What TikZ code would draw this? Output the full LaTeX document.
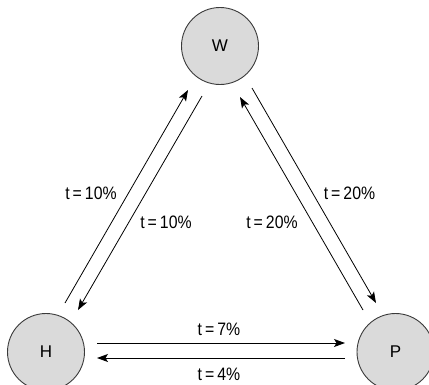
\documentclass[tikz,border=0pt]{standalone}
\usepackage{fontspec}
\setmainfont{Liberation Sans}
\newfontfamily\condfont[FakeStretch=0.88]{Liberation Sans}
\usetikzlibrary{arrows.meta}
\definecolor{circfill}{HTML}{DADADA}
\definecolor{circline}{HTML}{3A3A3A}
\tikzset{
  state/.style={circle, draw=circline, line width=0.9pt, fill=circfill, minimum size=77pt, inner sep=0pt, font=\fontsize{17}{19}\selectfont},
  conn/.style={line width=0.8pt, -{Stealth[length=11pt, width=8pt, inset=2.5pt]}},
  lbl/.style={anchor=base, inner sep=0pt, font=\condfont\fontsize{18}{20}\selectfont}
}
\begin{document}
\begin{tikzpicture}[x=1pt, y=-1pt]
\useasboundingbox (0,0) rectangle (429,384);
\clip (0,0) rectangle (429,384);
\node[state] (W) at (220,46) {W};
\node[state] (H) at (46,352) {H};
\node[state] (P) at (395.5,352) {P};
% endpoints
\coordinate (hw1) at (65,303);
\coordinate (hw2) at (188,90);
\coordinate (wh1) at (202,96);
\coordinate (wh2) at (78,310);
\coordinate (wp1) at (252,88);
\coordinate (wp2) at (376,303);
\coordinate (pw1) at (363,310);
\coordinate (pw2) at (240,97);
\coordinate (hp1) at (97,343);
\coordinate (hp2) at (345,343);
\coordinate (ph1) at (345,358);
\coordinate (ph2) at (97,358);
\draw[conn] (hw1) -- (hw2);
\draw[conn] (wh1) -- (wh2);
\draw[conn] (wp1) -- (wp2);
\draw[conn] (pw1) -- (pw2);
\draw[conn] (hp1) -- (hp2);
\draw[conn] (ph1) -- (ph2);
% labels
\node[lbl] (l1) at (91,199) {t\,=\,10\%};
\node[lbl] (l2) at (166,228) {t\,=\,10\%};
\node[lbl] (l3) at (349.5,199) {t\,=\,20\%};
\node[lbl] (l4) at (272,228) {t\,=\,20\%};
\node[lbl] (l5) at (219,335) {t\,=\,7\%};
\node[lbl] (l6) at (219,380.5) {t\,=\,4\%};
\end{tikzpicture}
\end{document}
